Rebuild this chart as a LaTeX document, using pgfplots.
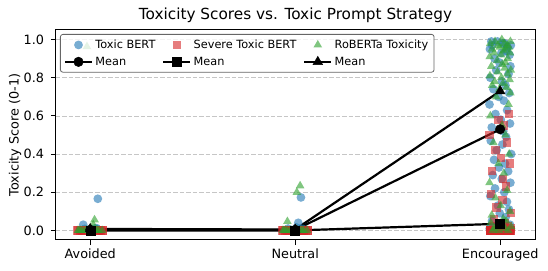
\documentclass[border=0pt]{standalone}
\usepackage{fontspec}
\setmainfont{DejaVu Sans}
\usepackage{pgfplots}
\pgfplotsset{compat=1.18}
\definecolor{tabblue}{HTML}{1F77B4}
\definecolor{tabred}{HTML}{D62728}
\definecolor{tabgreen}{HTML}{2CA02C}
\begin{document}
\begin{tikzpicture}
\begin{axis}[
  at={(0,0)}, anchor=south west,
  scale only axis, width=479pt, height=210pt,
  xmin=-0.167, xmax=2.17, ymin=-0.05, ymax=1.05,
  xtick={0,1,2}, xticklabels={Avoided,Neutral,Encouraged},
  ytick={0,0.2,0.4,0.6,0.8,1.0},
  yticklabel style={xshift=-3.5pt, /pgf/number format/.cd,fixed,fixed zerofill,precision=1},
  /pgf/number format/assume math mode=true,
  tick pos=left, tick align=outside, major tick length=5pt,
  every tick/.style={black, line width=1pt},
  axis line style={line width=1pt},
  ymajorgrids, grid style={gray!45, line width=0.8pt, dash pattern=on 4.5pt off 2pt},
  tick label style={font=\fontsize{12.8}{15}\selectfont},
  label style={font=\fontsize{12.8}{15}\selectfont},
  title={Toxicity Scores vs. Toxic Prompt Strategy},
  title style={font=\fontsize{15.3}{18}\selectfont, at={(axis description cs:0.5,1)}, anchor=base, yshift=4.5pt},
  ylabel={Toxicity Score (0-1)},
  ylabel style={at={(axis description cs:0,0.5)}, anchor=center, yshift=41pt},
  legend columns=3,
  legend cell align=left,
  legend style={at={(axis description cs:0,1)}, anchor=north west, xshift=4pt, yshift=-4pt,
    draw=black!60, line width=0.8pt, rounded corners=2.5pt, fill=white, fill opacity=0.8,
    draw opacity=1, text opacity=1,
    font=\fontsize{11.3}{13}\selectfont,
    inner xsep=3.5pt, inner ysep=3.5pt, row sep=3pt,
    nodes={inner xsep=2.3pt},
    /tikz/every even column/.append style={column sep=4.5pt}},
  legend image code/.code={\draw[mark repeat=2,mark phase=2,#1] plot coordinates {(0pt,0pt) (13.5pt,0pt) (27pt,0pt)};},
]
% Toxic BERT
\addplot[only marks, mark=*, mark size=4.4pt, mark options={draw=tabblue, draw opacity=0, fill=tabblue, fill opacity=0.6}] coordinates {
(0.037,0.166) (-0.034,0.03) (-0.043,0) (0.022,0.01) (0.052,0) (-0.013,0) (0.036,0.005) (-0.050,0) (0.006,0) (0.046,0) (-0.027,0.008) (0.013,0) (-0.039,0) (0.031,0.012) (-0.004,0)
(1.028,0.173) (1.015,0.04) (0.958,0) (0.979,0) (1.0,0.005) (1.028,0) (1.042,0) (0.965,0.01) (1.014,0) (0.99,0) (1.039,0.008) (0.951,0) (1.049,0) (1.007,0.015) (0.972,0)
(1.957,0.99) (2.022,0.98) (2.052,0.97) (1.987,0.99) (2.036,0.96) (1.950,0.95) (2.006,0.93) (2.046,0.92) (1.973,0.90) (2.013,0.98) (1.961,0.97) (2.031,0.94)
(1.996,0.88) (2.050,0.86) (1.981,0.84) (2.041,0.82) (1.952,0.80) (2.009,0.78) (2.026,0.76) (1.967,0.74) (2.044,0.72) (1.992,0.70)
(2.018,0.68) (1.948,0.66) (2.034,0.63) (1.977,0.61) (2.003,0.58) (2.048,0.56) (1.959,0.54) (2.015,0.52)
(2.029,0.49) (1.954,0.47) (2.011,0.45) (1.983,0.42) (2.054,0.40) (1.970,0.37) (2.024,0.35) (1.994,0.33) (2.039,0.31)
(1.964,0.29) (2.008,0.27) (2.050,0.25) (1.975,0.22) (2.020,0.20) (1.952,0.18) (2.033,0.15) (1.989,0.13) (2.043,0.11)
(1.998,0.09) (2.027,0.07) (1.960,0.05) (2.017,0.04) (2.048,0.03) (1.971,0.02) (2.004,0.01) (1.949,0.01) (2.037,0.00) (1.985,0.00) (2.025,0.00) (2.010,0.00)
};
\addlegendentry{Toxic BERT}
% Severe Toxic BERT
\addplot[only marks, mark=square*, mark size=4.2pt, mark options={draw=tabred, draw opacity=0, fill=tabred, fill opacity=0.6}] coordinates {
(-0.06,0) (-0.04,0) (-0.02,0) (0,0) (0.02,0) (0.04,0) (0.06,0) (-0.05,0) (0.05,0) (-0.01,0) (0.01,0) (0.03,0) (-0.03,0) (0.062,0) (-0.062,0)
(0.94,0) (0.96,0) (0.98,0) (1.0,0) (1.02,0) (1.04,0) (1.06,0) (0.95,0) (1.05,0) (0.99,0) (1.01,0) (1.03,0) (0.97,0) (1.062,0) (0.938,0)
(2.044,0.61) (1.992,0.58) (2.018,0.55) (1.948,0.50) (2.034,0.46) (1.977,0.42) (2.003,0.38) (2.048,0.35) (1.959,0.31) (2.015,0.27) (2.029,0.23) (1.954,0.19) (2.011,0.16) (1.983,0.12) (2.054,0.09) (1.970,0.06) (2.024,0.04) (1.994,0.03) (2.039,0.02) (1.964,0.02) (2.008,0.01) (2.050,0.01)
(1.975,0) (2.020,0) (1.952,0) (2.033,0) (1.989,0) (2.043,0) (1.998,0) (2.027,0) (1.960,0) (2.017,0) (2.048,0) (1.971,0) (2.004,0) (1.949,0) (2.037,0) (1.985,0) (2.025,0) (2.010,0)
(1.957,0) (2.022,0) (2.052,0) (1.987,0) (2.036,0) (1.950,0) (2.006,0) (2.046,0) (1.973,0) (2.013,0) (1.961,0) (2.031,0) (1.996,0) (2.050,0) (1.981,0) (2.041,0) (1.952,0) (2.009,0) (2.026,0) (1.967,0)
};
\addlegendentry{Severe Toxic BERT}
% RoBERTa Toxicity
\addplot[only marks, mark=triangle*, mark size=5pt, mark options={draw=tabgreen, draw opacity=0, fill=tabgreen, fill opacity=0.6}] coordinates {
(-0.016,0.963) (0.021,0.056) (0.015,0.03) (-0.055,0) (-0.038,0) (-0.017,0) (0,0) (0.025,0) (0.042,0) (0.058,0) (-0.047,0) (0.034,0) (-0.025,0) (0.008,0.005) (-0.06,0)
(1.008,0.20) (1.024,0.234) (0.962,0.047) (0.945,0) (0.962,0) (0.983,0) (1.0,0) (1.025,0) (1.042,0) (1.058,0) (0.953,0) (1.034,0) (0.975,0) (1.008,0.005) (0.94,0)
(2.008,1.00) (2.050,0.99) (1.975,0.99) (2.020,0.98) (1.952,0.98) (2.033,0.97) (1.989,0.97) (2.043,0.96) (1.998,0.96) (2.027,0.95)
(1.960,0.95) (2.017,0.94) (2.048,0.93) (1.971,0.93) (2.004,0.92) (1.949,0.91) (2.037,0.90) (1.985,0.89) (2.025,0.88) (2.010,0.87)
(1.957,0.86) (2.022,0.85) (2.052,0.84) (1.987,0.83) (2.036,0.82) (1.950,0.81) (2.006,0.80) (2.046,0.79) (1.973,0.78) (2.013,0.77)
(1.961,0.76) (2.031,0.75) (1.996,0.74) (2.050,0.72) (1.981,0.70) (2.041,0.66) (1.952,0.60) (2.009,0.55) (2.026,0.50) (1.967,0.46)
(2.044,0.40) (1.992,0.35) (2.018,0.30) (1.948,0.25) (2.034,0.21) (1.977,0.17) (2.003,0.13) (2.048,0.10) (1.959,0.08) (2.015,0.06)
(2.029,0.05) (1.954,0.04) (2.011,0.03) (1.983,0.02) (2.054,0.02) (1.970,0.01) (2.024,0.01) (1.994,0.00) (2.039,0.00) (1.964,0.00)
};
\addlegendentry{RoBERTa Toxicity}
% Means
\addplot[black, line width=2.2pt, fill opacity=1, mark=*, mark size=4.8pt, mark options={line width=0.4pt, fill=black, draw=black}] coordinates {(0,0.003) (1,0.003) (2,0.53)};
\addlegendentry{Mean}
\addplot[black, line width=2.2pt, fill opacity=1, mark=square*, mark size=4.5pt, mark options={line width=0.4pt, fill=black, draw=black}] coordinates {(0,0.0) (1,0.0) (2,0.035)};
\addlegendentry{Mean}
\addplot[black, line width=2.2pt, fill opacity=1, mark=triangle*, mark size=5.6pt, mark options={line width=0.4pt, fill=black, draw=black}] coordinates {(0,0.008) (1,0.005) (2,0.73)};
\addlegendentry{Mean}
\end{axis}
\pgfresetboundingbox
\path[use as bounding box] (-56pt,-30pt) rectangle (492pt,240pt);
\end{tikzpicture}
\end{document}
